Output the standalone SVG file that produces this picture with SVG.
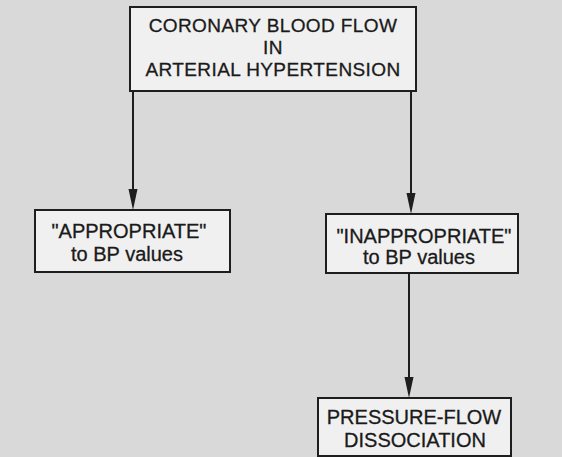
<svg xmlns="http://www.w3.org/2000/svg" width="562" height="457" viewBox="0 0 562 457">
<style>
.box{fill:#f0f0f0;stroke:#1e1e1e;stroke-width:2}
.lbl{font-family:"Liberation Sans",Arial,sans-serif;font-size:20px;fill:#1a1a1a;stroke:#1a1a1a;stroke-width:0.3;text-anchor:middle}
.top{font-size:19px;letter-spacing:0.4px}
.con{stroke:#1e1e1e;stroke-width:2;fill:none}
.head{fill:#1e1e1e}
</style>
<rect width="562" height="457" fill="#d9d9d9"/>
<g id="connectors">
<line class="con" x1="133" y1="91" x2="133" y2="192"/>
<path class="head" d="M128.5,189 L137.5,189 L133,210 Z"/>
<line class="con" x1="411" y1="91" x2="411" y2="196"/>
<path class="head" d="M406.5,193 L415.5,193 L411,214 Z"/>
<line class="con" x1="409" y1="273" x2="409" y2="380"/>
<path class="head" d="M404.5,377 L413.5,377 L409,398 Z"/>
</g>
<g id="node-top">
<rect class="box" x="130" y="7" width="286" height="84"/>
<text class="lbl top" x="273" y="32">CORONARY BLOOD FLOW</text>
<text class="lbl top" x="273" y="54">IN</text>
<text class="lbl top" x="273" y="76">ARTERIAL HYPERTENSION</text>
</g>
<g id="node-appropriate">
<rect class="box" x="35" y="210" width="195" height="62"/>
<text class="lbl" x="129" y="238">"APPROPRIATE"</text>
<text class="lbl" x="127" y="261">to BP values</text>
</g>
<g id="node-inappropriate">
<rect class="box" x="326" y="214" width="192" height="59"/>
<text class="lbl" x="424" y="243">"INAPPROPRIATE"</text>
<text class="lbl" x="419" y="264">to BP values</text>
</g>
<g id="node-dissociation">
<rect class="box" x="318" y="398" width="193" height="58"/>
<text class="lbl" x="414" y="424">PRESSURE-FLOW</text>
<text class="lbl" x="415" y="447">DISSOCIATION</text>
</g>
</svg>
